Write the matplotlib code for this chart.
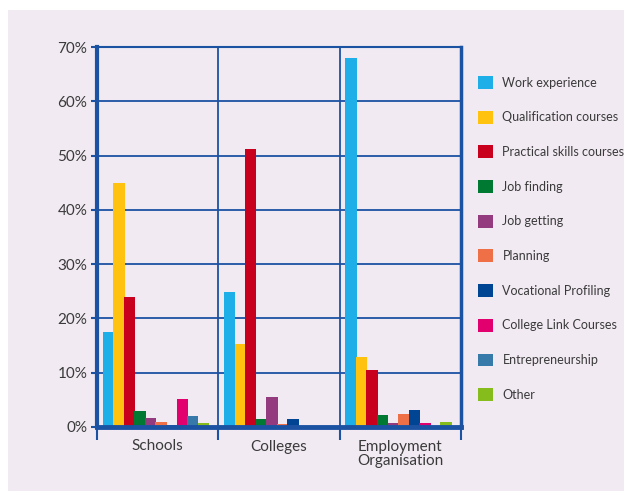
import numpy as np
import matplotlib.pyplot as plt
from matplotlib.patches import Rectangle, Patch

plt.rcParams['font.family'] = ['Lato', 'DejaVu Sans']

groups = ['Schools', 'Colleges', 'Employment\nOrganisation']
series = ['Work experience', 'Qualification courses', 'Practical skills courses',
          'Job finding', 'Job getting', 'Planning', 'Vocational Profiling',
          'College Link Courses', 'Entrepreneurship', 'Other']
colors = ['#1eaee8', '#ffc20e', '#c8001e', '#007a33', '#943b7f',
          '#ef7047', '#004494', '#e2006f', '#3779a9', '#86bc1c']

# percent per group: Schools, Colleges, Employment Organisation
work_exp = [17.5, 24.8, 68.0]
qualification = [45.0, 15.3, 12.9]
practical = [23.9, 51.2, 10.5]
job_finding = [3.0, 1.5, 2.2]
job_getting = [1.7, 5.5, 0.7]
planning = [1.0, 0.5, 2.4]
vocational = [0.4, 1.4, 3.1]
college_link = [5.2, 0.0, 0.7]
entrepreneurship = [2.1, 0.0, 0.0]
other = [0.8, 0.0, 0.9]

values = [work_exp, qualification, practical, job_finding, job_getting,
          planning, vocational, college_link, entrepreneurship, other]

blue = '#1c52a2'
text_col = '#3a3a3a'
bg = '#f1eaf2'

fig = plt.figure(figsize=(6.24, 4.91), dpi=100)
fig.patch.set_facecolor('white')
fig.patches.append(Rectangle((8 / 624, 0), 1, 1 - 10 / 491, transform=fig.transFigure,
                             facecolor=bg, edgecolor='none', zorder=-10))

ax = fig.add_axes([97 / 624, 1 - 427 / 491, (461 - 97) / 624, (427 - 47) / 491])
ax.set_facecolor('none')

x = np.arange(len(groups))
step = 0.087
width = step * 1.08
n = len(series)
for j, (name, vals, c) in enumerate(zip(series, values, colors)):
    off = (j - (n - 1) / 2) * step - 0.015
    ax.bar(x + off, vals, width, color=c, label=name, zorder=2, linewidth=0)

ax.set_xlim(-0.5, 2.5)
ax.set_ylim(0, 70)
ax.set_yticks(np.arange(0, 71, 10))
ax.set_yticklabels([f'{v}%' for v in range(0, 71, 10)])
ax.set_xticks(x)
ax.set_xticklabels(groups, linespacing=1.0)
ax.set_xticks([-0.5, 0.5, 1.5, 2.5], minor=True)

ax.tick_params(axis='y', length=4, width=1.5, color=blue, labelsize=11,
               labelcolor=text_col, pad=3)
ax.tick_params(axis='x', which='major', length=0, labelsize=11,
               labelcolor=text_col, pad=9)
ax.tick_params(axis='x', which='minor', length=9, width=1.5, color=blue)

ax.yaxis.grid(True, color=blue, linewidth=1.3, zorder=1)
ax.xaxis.grid(True, which='minor', color=blue, linewidth=1.3, zorder=1)
ax.xaxis.grid(False, which='major')
ax.set_axisbelow(True)

for side, lw in [('left', 3), ('bottom', 3.5), ('right', 2.5), ('top', 1.5)]:
    ax.spines[side].set_color(blue)
    ax.spines[side].set_linewidth(lw)

handles = [Patch(facecolor=c, edgecolor='none') for c in colors]
fig.legend(handles, series, loc='upper left', bbox_to_anchor=(478 / 624, 1 - 76 / 491),
           frameon=False, fontsize=9, labelcolor=text_col, borderpad=0,
           handlelength=1.2, handleheight=1.2, handletextpad=0.75,
           labelspacing=1.75, borderaxespad=0)

fig.savefig('out.png', dpi=100, facecolor=fig.get_facecolor())
